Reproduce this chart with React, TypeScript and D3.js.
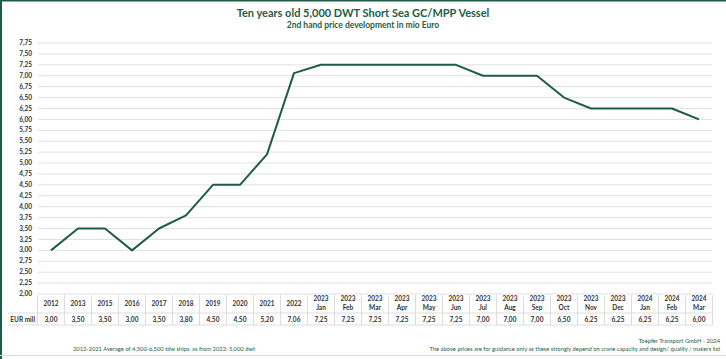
import React from 'react'
import * as d3 from 'd3'

const years = ['2012', '2013', '2015', '2016', '2017', '2018', '2019', '2020', '2021', '2022', '2023', '2023', '2023', '2023', '2023', '2023', '2023', '2023', '2023', '2023', '2023', '2023', '2024', '2024', '2024']
const months = ['', '', '', '', '', '', '', '', '', '', 'Jan', 'Feb', 'Mar', 'Apr', 'May', 'Jun', 'Jul', 'Aug', 'Sep', 'Oct', 'Nov', 'Dec', 'Jan', 'Feb', 'Mar']
const prices = [3.0, 3.5, 3.5, 3.0, 3.5, 3.8, 4.5, 4.5, 5.2, 7.06, 7.25, 7.25, 7.25, 7.25, 7.25, 7.25, 7.0, 7.0, 7.0, 6.5, 6.25, 6.25, 6.25, 6.25, 6.0]
const yTicks = d3.range(2, 7.76, 0.25)

const green = '#1f5c45'
const font = 'Lato, "Open Sans", sans-serif'
const fmt = (v: number) => v.toFixed(2).replace('.', ',')

const App = () => {
	const idx = prices.map((_, i) => i)
	const x = d3.scaleBand<number>().domain(idx).range([37.5, 712.5]).padding(0)
	const cx = (i: number) => (x(i) ?? 0) + x.bandwidth() / 2
	const y = d3.scaleLinear().domain([2, 7.75]).range([294, 43])

	const line = d3
		.line<number>()
		.x((_, i) => cx(i))
		.y((d) => y(d))

	return (
		<svg width={726} height={359} style={{ position: 'absolute', left: 0, top: 0 }} fontFamily={font}>
			<rect x={0} y={0} width={726} height={359} fill='#fff' />
			<line x1={0} x2={726} y1={0.75} y2={0.75} stroke={green} strokeWidth={1.5} />
			<line x1={1} x2={1} y1={0} y2={359} stroke={green} strokeWidth={2} />
			<line x1={0} x2={726} y1={355.5} y2={355.5} stroke='#cfe3da' strokeWidth={1} />

			<text x={363} y={17} textAnchor='middle' fontSize={11} fontWeight='bold' fill={green}>
				Ten years old 5,000 DWT Short Sea GC/MPP Vessel
			</text>
			<text x={363} y={27.5} textAnchor='middle' fontSize={8.5} fontWeight='bold' fill={green}>
				2nd hand price development in mio Euro
			</text>

			{yTicks.map((t) => (
				<g key={t}>
					<line x1={38} x2={712} y1={y(t)} y2={y(t)} stroke='#e0e0e0' strokeWidth={1} />
					<text x={32} y={y(t)} dy='0.33em' textAnchor='end' fontSize={6.5} fontWeight='bold' fill='#333'>
						{fmt(t)}
					</text>
				</g>
			))}

			<path d={line(prices) ?? ''} fill='none' stroke={green} strokeWidth={2} strokeLinejoin='round' />

			{/* data table */}
			<g stroke='#d4d4d4' strokeWidth={0.8}>
				<line x1={37.5} x2={712.5} y1={313} y2={313} />
				<line x1={8} x2={712.5} y1={325} y2={325} />
				<line x1={8} x2={37.5} y1={313} y2={313} />
				{d3.range(26).map((i) => {
					const xx = 37.5 + i * x.bandwidth()
					return <line key={i} x1={xx} x2={xx} y1={295} y2={325} />
				})}
			</g>
			{idx.map((i) => (
				<g key={i} fontSize={6.5} fontWeight='bold' fill='#333' textAnchor='middle'>
					{months[i] ? (
						<>
							<text x={cx(i)} y={301}>{years[i]}</text>
							<text x={cx(i)} y={310}>{months[i]}</text>
						</>
					) : (
						<text x={cx(i)} y={306}>{years[i]}</text>
					)}
					<text x={cx(i)} y={321.5}>{fmt(prices[i])}</text>
				</g>
			))}
			<text x={35} y={321.5} textAnchor='end' fontSize={6.5} fontWeight='bold' fill='#333'>
				EUR mill
			</text>

			<text x={164} y={351} textAnchor='middle' fontSize={5.8} fill={green}>
				2012-2021 Average of 4,500-6,500 tdw ships, as from 2022: 5,000 dwt
			</text>
			<text x={720} y={343} textAnchor='end' fontSize={5.8} fill={green}>
				Toepfer Transport GmbH - 2024
			</text>
			<text x={720} y={351} textAnchor='end' fontSize={5.8} fill={green}>
				The above prices are for guidance only as these strongly depend on crane capacity and design/ quality / makers list
			</text>
		</svg>
	)
}

export default App
